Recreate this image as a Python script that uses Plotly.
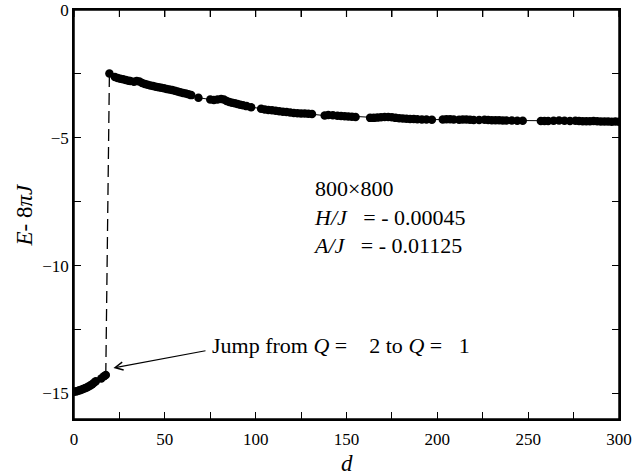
import plotly.graph_objects as go

# Lower branch (Q = 2)
d_low = [0, 1, 2, 3, 4, 5, 6, 7, 8, 9, 10, 11, 12, 15, 16.5, 17.5]
e_low = [-14.93, -14.92, -14.90, -14.88, -14.86, -14.83, -14.80, -14.77, -14.73,
         -14.69, -14.64, -14.58, -14.52, -14.42, -14.33, -14.28]

# Upper branch (Q = 1)
d_up = [19.5, 22.5, 24, 25.5, 27, 28.5, 30, 31, 33, 34.5, 36, 37.5, 39, 40.5, 42, 43.5,
        45, 46.5, 48, 49.5, 51, 52.5, 54, 55.5, 57, 58.5, 60, 61.5, 63, 64.5, 68.5,
        75, 77, 79, 81, 82.5, 84, 85.5, 87, 88.5, 90, 91.5, 93, 95, 97.5,
        103, 105, 107, 109, 111, 113, 115, 117, 119, 121, 123, 125, 127, 129, 131,
        138, 140, 142.5, 145, 147, 149, 151, 153, 155,
        163, 165, 167, 169, 171, 173, 175, 177, 179, 181, 183, 185, 187, 189, 191.5, 194, 197,
        203, 205, 207, 209, 212, 214, 216, 218, 220, 223, 226, 228, 230, 232, 234, 236, 238,
        241, 244, 247,
        257, 259, 261, 264, 267, 270, 273, 276, 278, 280, 282, 284, 286, 288, 290, 292, 294,
        296, 298, 300]
e_up = [-2.48, -2.62, -2.66, -2.69, -2.71, -2.74, -2.77, -2.78, -2.81, -2.78, -2.80, -2.86,
        -2.89, -2.92, -2.95, -2.97, -3.00, -3.02, -3.04, -3.06, -3.09, -3.11, -3.13, -3.16,
        -3.19, -3.22, -3.25, -3.27, -3.30, -3.33, -3.43,
        -3.50, -3.52, -3.50, -3.48, -3.50, -3.56, -3.60, -3.63, -3.65, -3.68, -3.71, -3.73,
        -3.76, -3.80,
        -3.86, -3.89, -3.91, -3.92, -3.94, -3.96, -3.98, -3.99, -4.01, -4.03, -4.04, -4.05,
        -4.05, -4.06, -4.07,
        -4.13, -4.11, -4.12, -4.14, -4.15, -4.16, -4.17, -4.18, -4.19,
        -4.22, -4.22, -4.21, -4.20, -4.19, -4.19, -4.20, -4.22, -4.23, -4.24, -4.25, -4.26,
        -4.26, -4.27, -4.28, -4.28, -4.29,
        -4.28, -4.27, -4.27, -4.28, -4.29, -4.28, -4.28, -4.29, -4.30, -4.30, -4.29, -4.30,
        -4.31, -4.31, -4.31, -4.32, -4.32, -4.32, -4.33, -4.33,
        -4.34, -4.34, -4.34, -4.33, -4.32, -4.33, -4.34, -4.33, -4.34, -4.35, -4.35, -4.35,
        -4.34, -4.35, -4.36, -4.36, -4.36, -4.37, -4.36, -4.37]

x_ticks = [0, 50, 100, 150, 200, 250, 300]
x_minor_ticks = [25, 75, 125, 175, 225, 275]
y_ticks = [0, -5, -10, -15]

FONT = "Liberation Serif"
NB = "\u00a0"

fig = go.Figure()

# dashed jump line between the two branches
fig.add_trace(go.Scatter(
    x=[d_low[-1], d_up[0]], y=[e_low[-1], e_up[0]], mode="lines",
    line=dict(color="black", width=1.3, dash="12px,6px"), hoverinfo="skip"))

for xs, ys in ((d_low, e_low), (d_up, e_up)):
    fig.add_trace(go.Scatter(
        x=xs, y=ys, mode="lines+markers",
        line=dict(color="black", width=1),
        marker=dict(color="black", size=8.5, line=dict(width=0))))

axis_common = dict(
    showline=True, linecolor="black", linewidth=1.5, mirror="ticks",
    ticks="inside", ticklen=7, tickwidth=1.2, tickcolor="black",
    showgrid=False, zeroline=False, automargin=False, ticklabeloverflow="allow",
    tickfont=dict(family=FONT, size=17, color="black"),
)

fig.update_xaxes(range=[0, 300], tickvals=x_ticks, ticklabelstandoff=4,
                 minor=dict(tickvals=x_minor_ticks, ticks="inside", ticklen=7,
                            tickcolor="black", tickwidth=1.2, showgrid=False),
                 **axis_common)
fig.update_yaxes(range=[-16, 0], tickvals=y_ticks,
                 minor=dict(dtick=2.5, tick0=0, ticks="inside", ticklen=7,
                            tickcolor="black", tickwidth=1.2, showgrid=False),
                 **axis_common)

# explicit frame + top ticks
fig.add_shape(type="rect", xref="x domain", yref="y domain", x0=0, x1=1, y0=0, y1=1,
              line=dict(color="black", width=1.5), layer="above")
tick_frac = 7 / 409
for t in x_ticks + x_minor_ticks:
    fig.add_shape(type="line", xref="x", yref="y domain", x0=t, x1=t, y0=1,
                  y1=1 - tick_frac, line=dict(color="black", width=1.2), layer="above")

# axis titles
fig.add_annotation(x=0.5, y=-0.108, xref="paper", yref="paper", xanchor="center",
                   yanchor="middle", text="<i>d</i>", showarrow=False,
                   font=dict(family=FONT, size=23, color="black"))
fig.add_annotation(x=-0.09, y=0.5, xref="paper", yref="paper", xanchor="center",
                   yanchor="middle", text="<i>E</i>- 8<i>πJ</i>", textangle=-90,
                   showarrow=False, font=dict(family=FONT, size=23, color="black"))

fig.add_annotation(
    x=130.2, y=-8.08, xref="x", yref="y", xanchor="left", yanchor="middle", align="left",
    text=("800×800<br><i>H/J</i>" + NB * 2 + " = - 0.00045<br><i>A/J</i>" + NB * 2
          + " = - 0.01125"),
    showarrow=False, font=dict(family=FONT, size=22, color="black"))

fig.add_annotation(
    x=74.8, y=-13.14, xref="x", yref="y", xanchor="left", yanchor="middle",
    text="Jump from <i>Q</i> =" + NB * 3 + " 2 to <i>Q</i> =" + NB * 2 + " 1",
    showarrow=False, font=dict(family=FONT, size=22, color="black"))

fig.add_annotation(
    x=21.7, y=-14.0, ax=73.2, ay=-13.32, xref="x", yref="y", axref="x", ayref="y",
    text="", showarrow=True, arrowhead=5, arrowsize=1.3, arrowwidth=1.2,
    arrowcolor="black", standoff=0)

fig.update_layout(
    width=644, height=476,
    margin=dict(l=74, r=25, t=10, b=57, autoexpand=False),
    paper_bgcolor="white", plot_bgcolor="white",
    showlegend=False,
    font=dict(family=FONT, color="black"),
)

fig.write_html("out.html", config={"displayModeBar": False},
               post_script="document.body.style.margin='0';document.body.style.overflow='hidden';")
